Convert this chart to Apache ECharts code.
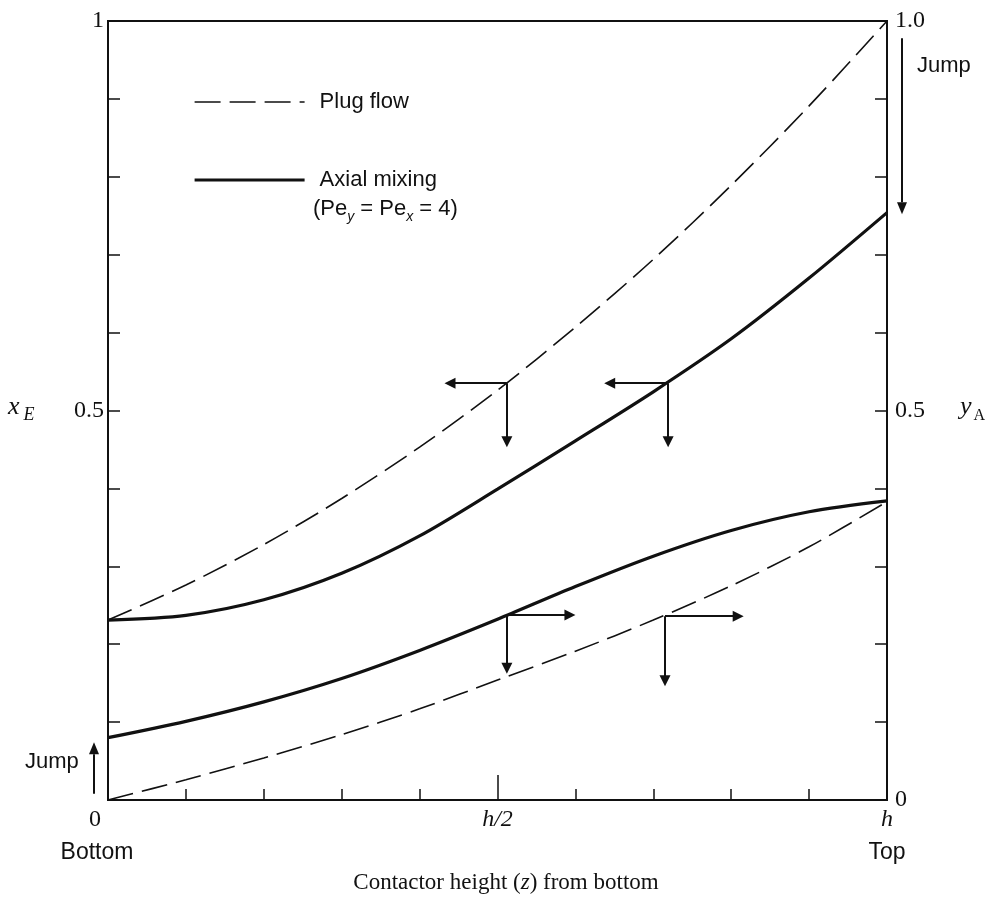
<!DOCTYPE html>
<html>
<head>
<meta charset="utf-8">
<script src="https://cdn.jsdelivr.net/npm/echarts@6/dist/echarts.min.js"></script>
<style>
html, body { margin: 0; padding: 0; background: #fff; }
#chart { width: 998px; height: 899px; }
</style>
</head>
<body>
<div id="chart"></div>
<script>
// position along the contactor, as a fraction of h (0 = bottom, 1 = top)
const zPos = [0, 0.1, 0.2, 0.3, 0.4, 0.5, 0.6, 0.7, 0.8, 0.9, 1.0];

// plug flow (dashed) and axial mixing (solid)
const plugUpper  = [0.231, 0.276, 0.328, 0.387, 0.453, 0.526, 0.607, 0.694, 0.789, 0.891, 1.0];
const plugLower  = [0.000, 0.026, 0.054, 0.084, 0.117, 0.154, 0.191, 0.231, 0.275, 0.325, 0.383];
const axialUpper = [0.231, 0.237, 0.257, 0.291, 0.339, 0.399, 0.461, 0.524, 0.592, 0.670, 0.754];
const axialLower = [0.080, 0.101, 0.126, 0.156, 0.192, 0.232, 0.274, 0.313, 0.346, 0.370, 0.384];

// L-shaped arrows: corner on a curve, end of horizontal arm, end of vertical arm
const arrowZ    = [0.512, 0.719, 0.512, 0.715];
const arrowV    = [0.535, 0.535, 0.2375, 0.236];
const arrowZTip = [0.439, 0.644, 0.593, 0.809];
const arrowVTip = [0.460, 0.460, 0.169, 0.153];

// "Jump" arrows at the ends (from, to) on the value scale
const jumpTop = [0.978, 0.752];
const jumpBottom = [0.008, 0.074];

const leftLabels = { '0.5': '0.5', '1': '1' };
const rightLabels = { '0': '0', '0.5': '0.5', '1': '1.0' };

const ink = '#111';
const serif = 'Liberation Serif';
const sans = 'Liberation Sans';

const chart = echarts.init(document.getElementById('chart'));

function pts(vals) {
    return zPos.map((z, i) => [z, vals[i]]);
}

function key(v) {
    return String(Math.round(v * 10) / 10);
}

const arrowLines = [];
arrowZ.forEach((z, i) => {
    arrowLines.push([{ coord: [z, arrowV[i]] }, { coord: [arrowZTip[i], arrowV[i]] }]);
    arrowLines.push([{ coord: [z, arrowV[i]] }, { coord: [z, arrowVTip[i]] }]);
});

const dashed = { color: ink, width: 1.6, type: [26, 9] };
const solid = { color: ink, width: 3.2, type: 'solid' };
const tickStyle = { color: ink, width: 1.5 };

const option = {
    animation: false,
    grid: {
        left: 108, right: 111, top: 21, bottom: 99,
        show: true, borderColor: ink, borderWidth: 2, backgroundColor: 'transparent'
    },
    legend: {
        data: ['Plug flow', 'Axial mixing'],
        orient: 'vertical',
        left: 188,
        top: 85,
        itemWidth: 110,
        itemHeight: 20,
        itemGap: 54,
        selectedMode: false,
        itemStyle: { opacity: 0 },
        lineStyle: { width: 'inherit' },
        textStyle: { fontFamily: sans, fontSize: 22, color: ink, padding: [0, 0, 0, 10], lineHeight: 24 }
    },
    xAxis: [
        {
            type: 'value', min: 0, max: 1, interval: 0.1,
            axisLine: { show: false, onZero: false },
            axisTick: { inside: true, length: 11, lineStyle: tickStyle },
            splitLine: { show: false },
            axisLabel: {
                margin: 8,
                showMinLabel: true,
                showMaxLabel: true,
                formatter: v => {
                    const k = key(v);
                    if (k === '0') return '{o|0}';
                    if (k === '0.5') return '{i|h/2}';
                    if (k === '1') return '{i|h}';
                    return '';
                },
                rich: {
                    o: { fontFamily: serif, fontSize: 24, color: ink, padding: [0, 26, 0, 0] },
                    i: { fontFamily: serif, fontSize: 24, color: ink, fontStyle: 'italic' }
                }
            }
        },
        {
            type: 'value', min: 0, max: 1, interval: 0.5, position: 'bottom',
            axisLine: { show: false, onZero: false },
            axisTick: { inside: true, length: 25, lineStyle: tickStyle },
            axisLabel: { show: false },
            splitLine: { show: false }
        }
    ],
    yAxis: [
        {
            type: 'value', min: 0, max: 1, interval: 0.1, position: 'left',
            axisLine: { show: false, onZero: false },
            axisTick: { inside: true, length: 12, lineStyle: tickStyle },
            splitLine: { show: false },
            axisLabel: {
                margin: 4, fontFamily: serif, fontSize: 24, color: ink,
                showMinLabel: true, showMaxLabel: true,
                formatter: v => leftLabels[key(v)] || ''
            }
        },
        {
            type: 'value', min: 0, max: 1, interval: 0.1, position: 'right',
            axisLine: { show: false, onZero: false },
            axisTick: { inside: true, length: 12, lineStyle: tickStyle },
            splitLine: { show: false },
            axisLabel: {
                margin: 8, fontFamily: serif, fontSize: 24, color: ink,
                showMinLabel: true, showMaxLabel: true,
                formatter: v => rightLabels[key(v)] || ''
            }
        }
    ],
    series: [
        { name: 'Plug flow', type: 'line', data: pts(plugUpper), smooth: 0.3, symbol: 'none', lineStyle: dashed, itemStyle: { color: ink } },
        { name: 'Plug flow', type: 'line', data: pts(plugLower), smooth: 0.3, symbol: 'none', lineStyle: dashed, itemStyle: { color: ink } },
        { name: 'Axial mixing', type: 'line', data: pts(axialUpper), smooth: 0.3, symbol: 'none', lineStyle: solid, itemStyle: { color: ink } },
        {
            name: 'Axial mixing', type: 'line', data: pts(axialLower), smooth: 0.3, symbol: 'none', lineStyle: solid, itemStyle: { color: ink },
            markLine: {
                silent: true,
                symbol: ['none', 'triangle'],
                symbolSize: 11,
                label: { show: false },
                lineStyle: { color: ink, width: 2, type: 'solid' },
                data: arrowLines
            }
        }
    ]
};

chart.setOption(option);

// jump arrows sit just outside the frame, placed from the value scale
function arrow(x1, y1, x2, y2) {
    const dir = y2 > y1 ? 1 : -1;
    const baseY = y2 - dir * 12;
    return {
        type: 'group',
        children: [
            { type: 'line', shape: { x1: x1, y1: y1, x2: x2, y2: baseY }, style: { stroke: ink, lineWidth: 2 } },
            { type: 'polygon', shape: { points: [[x2 - 5, baseY], [x2 + 5, baseY], [x2, y2]] }, style: { fill: ink } }
        ]
    };
}

const pTopA = chart.convertToPixel({ xAxisIndex: 0, yAxisIndex: 1 }, [1, jumpTop[0]]);
const pTopB = chart.convertToPixel({ xAxisIndex: 0, yAxisIndex: 1 }, [1, jumpTop[1]]);
const pBotA = chart.convertToPixel({ xAxisIndex: 0, yAxisIndex: 0 }, [0, jumpBottom[0]]);
const pBotB = chart.convertToPixel({ xAxisIndex: 0, yAxisIndex: 0 }, [0, jumpBottom[1]]);

chart.setOption({
    graphic: [
        arrow(pTopA[0] + 15, pTopA[1], pTopA[0] + 15, pTopB[1]),
        arrow(pBotA[0] - 14, pBotA[1], pBotA[0] - 14, pBotB[1]),
        { type: 'text', left: 917, top: 55, style: { text: 'Jump', font: '22px ' + sans, fill: ink } },
        { type: 'text', left: 25, top: 751, style: { text: 'Jump', font: '22px ' + sans, fill: ink } },
        {
            type: 'text', left: 313, top: 194,
            style: {
                text: '(Pe{s|y} = Pe{s|x} = 4)',
                fill: ink,
                rich: {
                    s: { fontFamily: sans, fontSize: 14, fontStyle: 'italic', verticalAlign: 'bottom', lineHeight: 30, fill: ink }
                },
                font: '22px ' + sans,
                lineHeight: 30
            }
        },
        {
            type: 'text', left: 8, top: 394,
            style: {
                text: '{x|x}{e|E}',
                rich: {
                    x: { fontFamily: serif, fontSize: 26, fontStyle: 'italic', fill: ink, lineHeight: 34, verticalAlign: 'middle' },
                    e: { fontFamily: serif, fontSize: 18, fontStyle: 'italic', fill: ink, lineHeight: 34, verticalAlign: 'bottom', padding: [0, 0, 0, 4] }
                }
            }
        },
        {
            type: 'text', left: 960, top: 394,
            style: {
                text: '{x|y}{e|A}',
                rich: {
                    x: { fontFamily: serif, fontSize: 26, fontStyle: 'italic', fill: ink, lineHeight: 34, verticalAlign: 'middle' },
                    e: { fontFamily: serif, fontSize: 16, fill: ink, lineHeight: 34, verticalAlign: 'bottom', padding: [0, 0, 0, 2] }
                }
            }
        },
        { type: 'text', x: 97, y: 853, style: { text: 'Bottom', font: '23px ' + sans, fill: ink, align: 'center', verticalAlign: 'middle' } },
        { type: 'text', x: 887, y: 853, style: { text: 'Top', font: '23px ' + sans, fill: ink, align: 'center', verticalAlign: 'middle' } },
        {
            type: 'text', x: 506, y: 883,
            style: {
                text: 'Contactor height ({z|z}) from bottom',
                font: '23px ' + serif,
                fill: ink, align: 'center', verticalAlign: 'middle',
                rich: { z: { fontFamily: serif, fontSize: 23, fontStyle: 'italic', fill: ink } }
            }
        }
    ]
});
</script>
</body>
</html>
